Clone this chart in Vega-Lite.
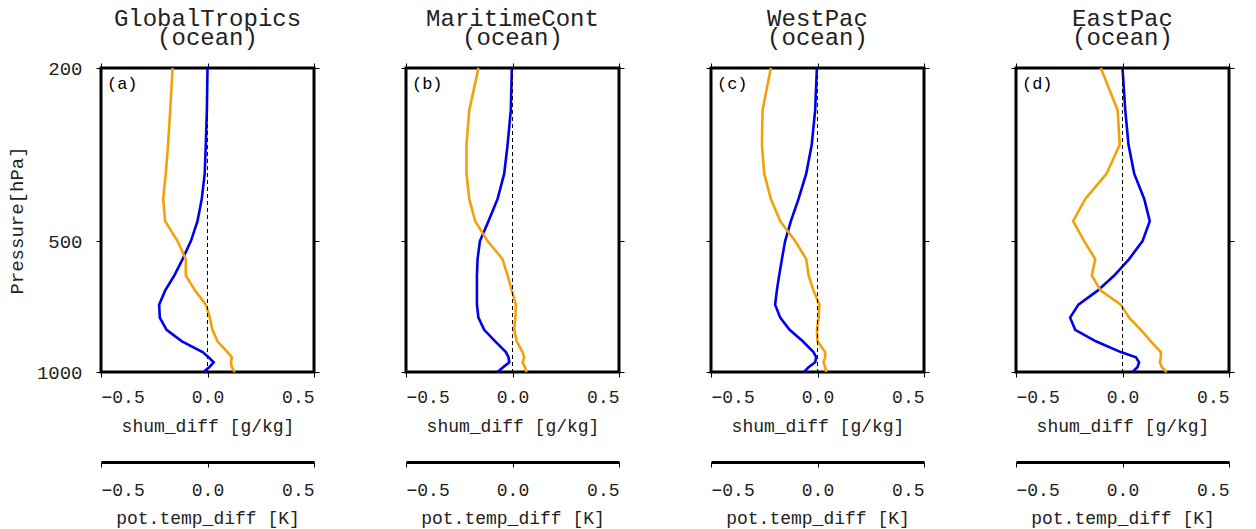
{
  "$schema": "https://vega.github.io/schema/vega-lite/v6.json",
  "background": "white",
  "padding": {"left": 5, "top": 5, "right": 5, "bottom": 1},
  "datasets": {
    "prof": [
      {"r": "a", "p": 200, "shum": 0.0, "temp": -0.164},
      {"r": "a", "p": 250, "shum": -0.003, "temp": -0.175},
      {"r": "a", "p": 300, "shum": -0.008, "temp": -0.185},
      {"r": "a", "p": 350, "shum": -0.013, "temp": -0.196},
      {"r": "a", "p": 400, "shum": -0.027, "temp": -0.208},
      {"r": "a", "p": 450, "shum": -0.047, "temp": -0.199},
      {"r": "a", "p": 500, "shum": -0.078, "temp": -0.141},
      {"r": "a", "p": 550, "shum": -0.117, "temp": -0.102},
      {"r": "a", "p": 600, "shum": -0.156, "temp": -0.102},
      {"r": "a", "p": 650, "shum": -0.199, "temp": -0.058},
      {"r": "a", "p": 700, "shum": -0.227, "temp": -0.008},
      {"r": "a", "p": 750, "shum": -0.224, "temp": 0.011},
      {"r": "a", "p": 800, "shum": -0.192, "temp": 0.023},
      {"r": "a", "p": 850, "shum": -0.12, "temp": 0.047},
      {"r": "a", "p": 900, "shum": -0.023, "temp": 0.094},
      {"r": "a", "p": 925, "shum": 0.005, "temp": 0.114},
      {"r": "a", "p": 950, "shum": 0.029, "temp": 0.11},
      {"r": "a", "p": 975, "shum": 0.008, "temp": 0.114},
      {"r": "a", "p": 1000, "shum": -0.019, "temp": 0.128},

      {"r": "b", "p": 200, "shum": -0.003, "temp": -0.16},
      {"r": "b", "p": 250, "shum": -0.008, "temp": -0.203},
      {"r": "b", "p": 300, "shum": -0.023, "temp": -0.216},
      {"r": "b", "p": 350, "shum": -0.039, "temp": -0.216},
      {"r": "b", "p": 400, "shum": -0.07, "temp": -0.203},
      {"r": "b", "p": 450, "shum": -0.113, "temp": -0.175},
      {"r": "b", "p": 500, "shum": -0.153, "temp": -0.117},
      {"r": "b", "p": 550, "shum": -0.164, "temp": -0.047},
      {"r": "b", "p": 600, "shum": -0.167, "temp": -0.023},
      {"r": "b", "p": 650, "shum": -0.167, "temp": -0.003},
      {"r": "b", "p": 700, "shum": -0.167, "temp": 0.016},
      {"r": "b", "p": 750, "shum": -0.16, "temp": 0.013},
      {"r": "b", "p": 800, "shum": -0.133, "temp": 0.008},
      {"r": "b", "p": 850, "shum": -0.081, "temp": 0.02},
      {"r": "b", "p": 900, "shum": -0.031, "temp": 0.047},
      {"r": "b", "p": 925, "shum": -0.019, "temp": 0.055},
      {"r": "b", "p": 950, "shum": -0.015, "temp": 0.047},
      {"r": "b", "p": 975, "shum": -0.044, "temp": 0.059},
      {"r": "b", "p": 1000, "shum": -0.07, "temp": 0.066},

      {"r": "c", "p": 200, "shum": -0.003, "temp": -0.219},
      {"r": "c", "p": 250, "shum": -0.011, "temp": -0.258},
      {"r": "c", "p": 300, "shum": -0.027, "temp": -0.261},
      {"r": "c", "p": 350, "shum": -0.053, "temp": -0.25},
      {"r": "c", "p": 400, "shum": -0.089, "temp": -0.219},
      {"r": "c", "p": 450, "shum": -0.125, "temp": -0.175},
      {"r": "c", "p": 500, "shum": -0.152, "temp": -0.105},
      {"r": "c", "p": 550, "shum": -0.167, "temp": -0.053},
      {"r": "c", "p": 600, "shum": -0.18, "temp": -0.042},
      {"r": "c", "p": 650, "shum": -0.191, "temp": -0.019},
      {"r": "c", "p": 700, "shum": -0.199, "temp": 0.009},
      {"r": "c", "p": 750, "shum": -0.175, "temp": 0.005},
      {"r": "c", "p": 800, "shum": -0.131, "temp": -0.003},
      {"r": "c", "p": 850, "shum": -0.069, "temp": 0.0},
      {"r": "c", "p": 900, "shum": -0.019, "temp": 0.036},
      {"r": "c", "p": 925, "shum": -0.006, "temp": 0.036},
      {"r": "c", "p": 950, "shum": -0.011, "temp": 0.028},
      {"r": "c", "p": 975, "shum": -0.042, "temp": 0.036},
      {"r": "c", "p": 1000, "shum": -0.063, "temp": 0.041},

      {"r": "d", "p": 200, "shum": 0.0, "temp": -0.102},
      {"r": "d", "p": 250, "shum": 0.013, "temp": -0.023},
      {"r": "d", "p": 300, "shum": 0.028, "temp": -0.013},
      {"r": "d", "p": 350, "shum": 0.055, "temp": -0.075},
      {"r": "d", "p": 400, "shum": 0.102, "temp": -0.175},
      {"r": "d", "p": 450, "shum": 0.128, "temp": -0.232},
      {"r": "d", "p": 500, "shum": 0.094, "temp": -0.18},
      {"r": "d", "p": 550, "shum": 0.031, "temp": -0.128},
      {"r": "d", "p": 600, "shum": -0.039, "temp": -0.144},
      {"r": "d", "p": 650, "shum": -0.117, "temp": -0.102},
      {"r": "d", "p": 700, "shum": -0.207, "temp": -0.008},
      {"r": "d", "p": 750, "shum": -0.246, "temp": 0.031},
      {"r": "d", "p": 800, "shum": -0.222, "temp": 0.086},
      {"r": "d", "p": 850, "shum": -0.125, "temp": 0.133},
      {"r": "d", "p": 900, "shum": -0.008, "temp": 0.18},
      {"r": "d", "p": 925, "shum": 0.063, "temp": 0.18},
      {"r": "d", "p": 950, "shum": 0.078, "temp": 0.175},
      {"r": "d", "p": 975, "shum": 0.07, "temp": 0.185},
      {"r": "d", "p": 1000, "shum": 0.047, "temp": 0.207}
    ]
  },
  "spacing": 92,
  "bounds": "flush",
  "hconcat": [
    {
      "width": 213, "height": 304,
      "title": {"text": ["GlobalTropics", "(ocean)"], "offset": 9},
      "data": {"name": "prof"},
      "transform": [{"filter": "datum.r == 'a'"}],
      "layer": [
        {"mark": {"type": "line", "color": "#0000F0", "strokeWidth": 2.6},
         "encoding": {
           "x": {"field": "shum", "type": "quantitative", "scale": {"domain": [-0.5, 0.5]}, "axis": {"orient": "bottom", "values": [-0.5, 0, 0.5], "format": ".1f", "title": "shum_diff [g/kg]", "domain": false, "labelPadding": 11, "titlePadding": 11}},
           "y": {"field": "p", "type": "quantitative", "scale": {"type": "log", "domain": [200, 1000], "reverse": true}, "axis": {"orient": "left", "values": [200, 500, 1000], "format": "d", "title": "Pressure[hPa]", "labelPadding": 14, "titlePadding": 10}},
           "order": {"field": "p"}}},
        {"mark": {"type": "line", "color": "#F2A10A", "strokeWidth": 2.6},
         "encoding": {
           "x": {"field": "temp", "type": "quantitative", "scale": {"domain": [-0.5, 0.5]}, "axis": {"orient": "bottom", "offset": 90, "values": [-0.5, 0, 0.5], "format": ".1f", "title": "pot.temp_diff [K]", "domain": true, "domainWidth": 3, "labelPadding": 14, "titlePadding": 10}},
           "y": {"field": "p", "type": "quantitative", "scale": {"type": "log", "domain": [200, 1000], "reverse": true}, "axis": {"orient": "right", "values": [200, 500, 1000], "labels": false, "title": null, "domain": false}},
           "order": {"field": "p"}}},
        {"data": {"values": [{}]},
         "mark": {"type": "rule", "color": "black", "strokeWidth": 1, "strokeDash": [4, 3]},
         "encoding": {"x": {"datum": 0, "type": "quantitative", "scale": {"domain": [-0.5, 0.5]}, "axis": {"orient": "top", "values": [-0.5, 0, 0.5], "labels": false, "title": null, "domain": false}}}},
        {"data": {"values": [{"lab": "(a)"}]},
         "mark": {"type": "text", "align": "left", "baseline": "middle", "font": "Liberation Mono", "fontSize": 17, "color": "black"},
         "encoding": {
           "text": {"field": "lab"},
           "x": {"datum": -0.472, "type": "quantitative", "scale": {"domain": [-0.5, 0.5]}, "axis": null},
           "y": {"datum": 218, "type": "quantitative", "scale": {"type": "log", "domain": [200, 1000], "reverse": true}, "axis": null}}}
      ],
      "resolve": {"scale": {"x": "independent", "y": "independent"}}
    },
    {
      "width": 213, "height": 304,
      "title": {"text": ["MaritimeCont", "(ocean)"]},
      "data": {"name": "prof"},
      "transform": [{"filter": "datum.r == 'b'"}],
      "layer": [
        {"mark": {"type": "line", "color": "#0000F0", "strokeWidth": 2.6},
         "encoding": {
           "x": {"field": "shum", "type": "quantitative", "scale": {"domain": [-0.5, 0.5]}, "axis": {"orient": "bottom", "values": [-0.5, 0, 0.5], "format": ".1f", "title": "shum_diff [g/kg]", "domain": false, "labelPadding": 11, "titlePadding": 11}},
           "y": {"field": "p", "type": "quantitative", "scale": {"type": "log", "domain": [200, 1000], "reverse": true}, "axis": {"orient": "left", "values": [200, 500, 1000], "labels": false, "title": null, "domain": false}},
           "order": {"field": "p"}}},
        {"mark": {"type": "line", "color": "#F2A10A", "strokeWidth": 2.6},
         "encoding": {
           "x": {"field": "temp", "type": "quantitative", "scale": {"domain": [-0.5, 0.5]}, "axis": {"orient": "bottom", "offset": 90, "values": [-0.5, 0, 0.5], "format": ".1f", "title": "pot.temp_diff [K]", "domain": true, "domainWidth": 3, "labelPadding": 14, "titlePadding": 10}},
           "y": {"field": "p", "type": "quantitative", "scale": {"type": "log", "domain": [200, 1000], "reverse": true}, "axis": {"orient": "right", "values": [200, 500, 1000], "labels": false, "title": null, "domain": false}},
           "order": {"field": "p"}}},
        {"data": {"values": [{}]},
         "mark": {"type": "rule", "color": "black", "strokeWidth": 1, "strokeDash": [4, 3]},
         "encoding": {"x": {"datum": 0, "type": "quantitative", "scale": {"domain": [-0.5, 0.5]}, "axis": {"orient": "top", "values": [-0.5, 0, 0.5], "labels": false, "title": null, "domain": false}}}},
        {"data": {"values": [{"lab": "(b)"}]},
         "mark": {"type": "text", "align": "left", "baseline": "middle", "font": "Liberation Mono", "fontSize": 17, "color": "black"},
         "encoding": {
           "text": {"field": "lab"},
           "x": {"datum": -0.472, "type": "quantitative", "scale": {"domain": [-0.5, 0.5]}, "axis": null},
           "y": {"datum": 218, "type": "quantitative", "scale": {"type": "log", "domain": [200, 1000], "reverse": true}, "axis": null}}}
      ],
      "resolve": {"scale": {"x": "independent", "y": "independent"}}
    },
    {
      "width": 213, "height": 304,
      "title": {"text": ["WestPac", "(ocean)"]},
      "data": {"name": "prof"},
      "transform": [{"filter": "datum.r == 'c'"}],
      "layer": [
        {"mark": {"type": "line", "color": "#0000F0", "strokeWidth": 2.6},
         "encoding": {
           "x": {"field": "shum", "type": "quantitative", "scale": {"domain": [-0.5, 0.5]}, "axis": {"orient": "bottom", "values": [-0.5, 0, 0.5], "format": ".1f", "title": "shum_diff [g/kg]", "domain": false, "labelPadding": 11, "titlePadding": 11}},
           "y": {"field": "p", "type": "quantitative", "scale": {"type": "log", "domain": [200, 1000], "reverse": true}, "axis": {"orient": "left", "values": [200, 500, 1000], "labels": false, "title": null, "domain": false}},
           "order": {"field": "p"}}},
        {"mark": {"type": "line", "color": "#F2A10A", "strokeWidth": 2.6},
         "encoding": {
           "x": {"field": "temp", "type": "quantitative", "scale": {"domain": [-0.5, 0.5]}, "axis": {"orient": "bottom", "offset": 90, "values": [-0.5, 0, 0.5], "format": ".1f", "title": "pot.temp_diff [K]", "domain": true, "domainWidth": 3, "labelPadding": 14, "titlePadding": 10}},
           "y": {"field": "p", "type": "quantitative", "scale": {"type": "log", "domain": [200, 1000], "reverse": true}, "axis": {"orient": "right", "values": [200, 500, 1000], "labels": false, "title": null, "domain": false}},
           "order": {"field": "p"}}},
        {"data": {"values": [{}]},
         "mark": {"type": "rule", "color": "black", "strokeWidth": 1, "strokeDash": [4, 3]},
         "encoding": {"x": {"datum": 0, "type": "quantitative", "scale": {"domain": [-0.5, 0.5]}, "axis": {"orient": "top", "values": [-0.5, 0, 0.5], "labels": false, "title": null, "domain": false}}}},
        {"data": {"values": [{"lab": "(c)"}]},
         "mark": {"type": "text", "align": "left", "baseline": "middle", "font": "Liberation Mono", "fontSize": 17, "color": "black"},
         "encoding": {
           "text": {"field": "lab"},
           "x": {"datum": -0.472, "type": "quantitative", "scale": {"domain": [-0.5, 0.5]}, "axis": null},
           "y": {"datum": 218, "type": "quantitative", "scale": {"type": "log", "domain": [200, 1000], "reverse": true}, "axis": null}}}
      ],
      "resolve": {"scale": {"x": "independent", "y": "independent"}}
    },
    {
      "width": 213, "height": 304,
      "title": {"text": ["EastPac", "(ocean)"]},
      "data": {"name": "prof"},
      "transform": [{"filter": "datum.r == 'd'"}],
      "layer": [
        {"mark": {"type": "line", "color": "#0000F0", "strokeWidth": 2.6},
         "encoding": {
           "x": {"field": "shum", "type": "quantitative", "scale": {"domain": [-0.5, 0.5]}, "axis": {"orient": "bottom", "values": [-0.5, 0, 0.5], "format": ".1f", "title": "shum_diff [g/kg]", "domain": false, "labelPadding": 11, "titlePadding": 11}},
           "y": {"field": "p", "type": "quantitative", "scale": {"type": "log", "domain": [200, 1000], "reverse": true}, "axis": {"orient": "left", "values": [200, 500, 1000], "labels": false, "title": null, "domain": false}},
           "order": {"field": "p"}}},
        {"mark": {"type": "line", "color": "#F2A10A", "strokeWidth": 2.6},
         "encoding": {
           "x": {"field": "temp", "type": "quantitative", "scale": {"domain": [-0.5, 0.5]}, "axis": {"orient": "bottom", "offset": 90, "values": [-0.5, 0, 0.5], "format": ".1f", "title": "pot.temp_diff [K]", "domain": true, "domainWidth": 3, "labelPadding": 14, "titlePadding": 10}},
           "y": {"field": "p", "type": "quantitative", "scale": {"type": "log", "domain": [200, 1000], "reverse": true}, "axis": {"orient": "right", "values": [200, 500, 1000], "labels": false, "title": null, "domain": false}},
           "order": {"field": "p"}}},
        {"data": {"values": [{}]},
         "mark": {"type": "rule", "color": "black", "strokeWidth": 1, "strokeDash": [4, 3]},
         "encoding": {"x": {"datum": 0, "type": "quantitative", "scale": {"domain": [-0.5, 0.5]}, "axis": {"orient": "top", "values": [-0.5, 0, 0.5], "labels": false, "title": null, "domain": false}}}},
        {"data": {"values": [{"lab": "(d)"}]},
         "mark": {"type": "text", "align": "left", "baseline": "middle", "font": "Liberation Mono", "fontSize": 17, "color": "black"},
         "encoding": {
           "text": {"field": "lab"},
           "x": {"datum": -0.472, "type": "quantitative", "scale": {"domain": [-0.5, 0.5]}, "axis": null},
           "y": {"datum": 218, "type": "quantitative", "scale": {"type": "log", "domain": [200, 1000], "reverse": true}, "axis": null}}}
      ],
      "resolve": {"scale": {"x": "independent", "y": "independent"}}
    }
  ],
  "config": {
    "view": {"stroke": "black", "strokeWidth": 3},
    "axis": {
      "grid": false,
      "tickColor": "black", "tickWidth": 1, "tickSize": 5,
      "domainColor": "black",
      "labelFont": "Liberation Mono", "labelFontSize": 18, "labelColor": "#222",
      "titleFont": "Liberation Mono", "titleFontSize": 18, "titleColor": "#222", "titleFontWeight": "normal",
      "labelPadding": 8, "titlePadding": 8
    },
    "axisLeft": {"labelFontSize": 19, "titleFontSize": 19},
    "title": {"font": "Liberation Mono", "fontSize": 24, "fontWeight": "normal", "color": "#222", "lineHeight": 19, "anchor": "middle", "offset": 13}
  }
}
